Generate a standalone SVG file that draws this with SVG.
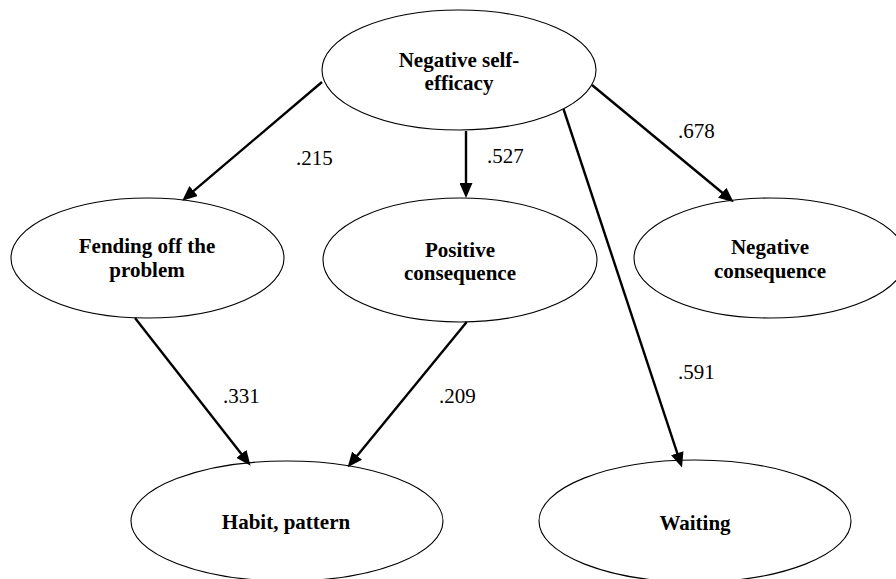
<svg xmlns="http://www.w3.org/2000/svg" width="896" height="579" viewBox="0 0 896 579">
<style>
.node ellipse{fill:#fff;stroke:#000;stroke-width:1.1}
.node text{font-weight:bold;font-size:21px;text-anchor:middle;fill:#000}
.edges line{stroke:#000;stroke-width:2.4;marker-end:url(#arr)}
.lbl{font-size:21px;fill:#000}
</style>
<defs>
<marker id="arr" markerUnits="userSpaceOnUse" markerWidth="15" markerHeight="13" refX="10" refY="6.5" orient="auto">
<path d="M0,0 L15,6.5 L0,13 z" fill="#000"/>
</marker>
</defs>
<rect width="896" height="579" fill="#fff"/>
<g font-family="'Liberation Serif', Tinos, 'DejaVu Serif', serif">
<g id="n-nse" class="node"><ellipse cx="459" cy="70" rx="137" ry="60"/><text x="459" y="67">Negative self-</text><text x="459" y="90">efficacy</text></g>
<g id="n-fend" class="node"><ellipse cx="147.5" cy="258" rx="136.5" ry="60"/><text x="147" y="253">Fending off the</text><text x="147" y="277">problem</text></g>
<g id="n-pos" class="node"><ellipse cx="460" cy="260" rx="137" ry="62"/><text x="460" y="257">Positive</text><text x="460" y="280">consequence</text></g>
<g id="n-neg" class="node"><ellipse cx="770" cy="258" rx="136" ry="60"/><text x="770" y="254">Negative</text><text x="770" y="278">consequence</text></g>
<g id="n-habit" class="node"><ellipse cx="287" cy="521" rx="156" ry="60"/><text x="286" y="529">Habit, pattern</text></g>
<g id="n-wait" class="node"><ellipse cx="695" cy="521" rx="156" ry="61"/><text x="695" y="530">Waiting</text></g>
<g id="edges" class="edges">
<line x1="322" y1="82" x2="186" y2="197.4"/>
<line x1="466" y1="131" x2="466" y2="193"/>
<line x1="592" y1="85" x2="729.9" y2="199"/>
<line x1="563.5" y1="109" x2="680.4" y2="462.7"/>
<line x1="135" y1="318" x2="247.5" y2="461.8"/>
<line x1="466.7" y1="322" x2="350.8" y2="463.4"/>
</g>
<g id="labels">
<text class="lbl" x="296" y="165">.215</text>
<text class="lbl" x="487" y="163">.527</text>
<text class="lbl" x="678" y="138">.678</text>
<text class="lbl" x="678" y="379">.591</text>
<text class="lbl" x="223" y="403">.331</text>
<text class="lbl" x="439" y="403">.209</text>
</g>
</g>
</svg>
